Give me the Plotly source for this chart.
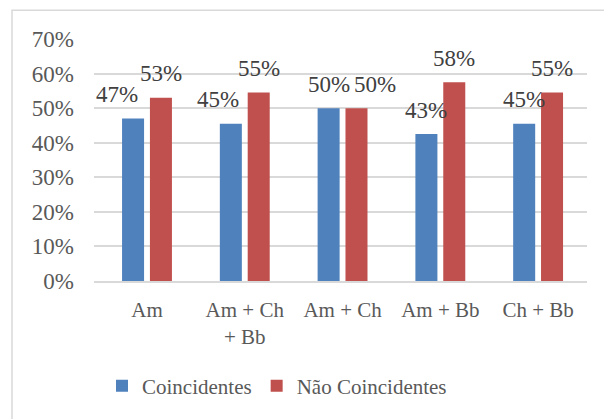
import math
import plotly.graph_objects as go

categories = ["Am", "Am + Ch<br>+ Bb", "Am + Ch", "Am + Bb", "Ch + Bb"]
coincidentes = [0.47, 0.4545, 0.50, 0.425, 0.4545]
nao_coincidentes = [0.53, 0.5455, 0.50, 0.575, 0.5455]
tick_vals = [0, 0.1, 0.2, 0.3, 0.4, 0.5, 0.6, 0.7]
tick_text = ["0%", "10%", "20%", "30%", "40%", "50%", "60%", "70%"]

BLUE = "#4F81BD"
RED = "#C0504D"
FONT = "Times New Roman, Liberation Serif, serif"
TXT = "#595959"

# label horizontal nudges (px) to mimic the reference layout
blue_nudge = [-16, -13, 0, 0, 0]
red_nudge = [0, 0, 18, 0, 0]


def pct(v):
    return f"{math.floor(v * 100 + 0.5 + 1e-6)}%"


fig = go.Figure()
fig.add_trace(go.Bar(x=categories, y=coincidentes, name="Coincidentes",
                     marker=dict(color=BLUE, line=dict(width=0))))
fig.add_trace(go.Bar(x=categories, y=nao_coincidentes, name="Não Coincidentes",
                     marker=dict(color=RED, line=dict(width=0))))

ann = []
for i, c in enumerate(categories):
    ann.append(dict(x=c, y=coincidentes[i], xref="x", yref="y",
                    text=pct(coincidentes[i]), showarrow=False,
                    xshift=-14 + blue_nudge[i], yshift=24, yanchor="middle",
                    font=dict(family=FONT, size=23, color="#404040")))
    ann.append(dict(x=c, y=nao_coincidentes[i], xref="x", yref="y",
                    text=pct(nao_coincidentes[i]), showarrow=False,
                    xshift=14 + red_nudge[i], yshift=24, yanchor="middle",
                    font=dict(family=FONT, size=23, color="#404040")))

L, R, T, B = 94, 17, 39, 136
W, H = 604, 419
pw, ph = W - L - R, H - T - B

fig.update_layout(
    width=W, height=H,
    margin=dict(l=L, r=R, t=T, b=B),
    paper_bgcolor="white", plot_bgcolor="white",
    barmode="group", bargap=0.43, bargroupgap=0.21,
    font=dict(family=FONT, size=21, color=TXT),
    annotations=ann,
    showlegend=True,
    legend=dict(orientation="h", x=(102 - L) / pw, y=(283 - 389) / ph,
                xanchor="left", yanchor="middle",
                font=dict(family=FONT, size=21, color=TXT),
                bgcolor="rgba(0,0,0,0)"),
    shapes=[dict(type="rect", xref="paper", yref="paper",
                 x0=(12 - L) / pw, x1=(W + 10 - L) / pw,
                 y0=-(H + 10 - T - ph) / ph, y1=(283 - 10) / ph,
                 line=dict(color="#D9D9D9", width=1.5), fillcolor="rgba(0,0,0,0)",
                 layer="below")],
)
fig.update_yaxes(range=[0, 0.7], tickvals=tick_vals, ticktext=tick_text,
                 showgrid=True, gridcolor="#D9D9D9", gridwidth=1.5,
                 zeroline=False, showline=False,
                 tickfont=dict(family=FONT, size=23, color=TXT),
                 ticks="", ticklabelstandoff=19)
fig.update_xaxes(showline=True, linecolor="#D9D9D9", linewidth=1.5,
                 ticks="", tickfont=dict(family=FONT, size=21, color=TXT),
                 ticklabelstandoff=9)

fig.write_html("out.html", config={"displayModeBar": False},
               post_script="document.body.style.margin='0';document.body.style.padding='0';")
